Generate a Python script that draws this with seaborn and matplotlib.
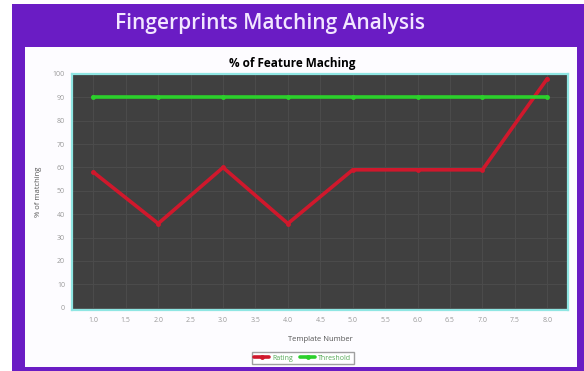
import matplotlib
matplotlib.use("Agg")
import matplotlib.pyplot as plt
import matplotlib.patches as mpatches
import seaborn as sns
import pandas as pd
import numpy as np

template_numbers = [1, 2, 3, 4, 5, 6, 7, 8]
rating = [58, 36, 60, 36, 59, 59, 59, 98]
threshold = [90, 90, 90, 90, 90, 90, 90, 90]
series_names = ["Rating", "Threshold"]
x_ticks = [1.0, 1.5, 2.0, 2.5, 3.0, 3.5, 4.0, 4.5, 5.0, 5.5, 6.0, 6.5, 7.0, 7.5, 8.0]
y_ticks = [0, 10, 20, 30, 40, 50, 60, 70, 80, 90, 100]

df = pd.DataFrame({
    "Template Number": template_numbers * 2,
    "value": rating + threshold,
    "series": [series_names[0]] * len(rating) + [series_names[1]] * len(threshold),
})

sns.set_style("white")
plt.rcParams["font.family"] = ["Open Sans", "DejaVu Sans"]

W, H = 584, 371
fig = plt.figure(figsize=(W / 100, H / 100), dpi=100)
fig.patch.set_facecolor("white")

purple = "#6A1CC4"
# purple frame
fig.patches.append(mpatches.Rectangle((12 / W, 0), 1 - 12 / W, 1 - 4 / H,
                                      transform=fig.transFigure, facecolor=purple,
                                      edgecolor="none", zorder=-2))
# white inner panel
fig.patches.append(mpatches.Rectangle((25 / W, 4 / H), (577 - 25) / W, (367 - 47) / H,
                                      transform=fig.transFigure, facecolor="#FDFCFF",
                                      edgecolor="none", zorder=-1))

fig.text(270 / W, 1 - 23 / H, "Fingerprints Matching Analysis", ha="center", va="center",
         color="#F2E6FF", fontsize=15, fontweight="semibold")
fig.text(0.5, 1 - 64 / H, "% of Feature Maching", ha="center", va="center",
         color="black", fontsize=8.5, fontweight="bold")

ax = fig.add_axes([72 / W, 1 - 310 / H, (568 - 72) / W, (310 - 74) / H])
ax.set_zorder(5)
ax.set_facecolor("#404040")

palette = {"Rating": "#D0182C", "Threshold": "#2BD02B"}
sns.lineplot(data=df, x="Template Number", y="value", hue="series", palette=palette,
             linewidth=2.6, marker="o", markersize=3.5, markeredgewidth=0, ax=ax,
             legend=True)

ax.set_xlim(0.67, 8.32)
ax.set_ylim(-1, 100)
ax.set_xticks(x_ticks)
ax.set_xticklabels([f"{t:.1f}" for t in x_ticks])
ax.set_yticks(y_ticks)
ax.set_yticklabels([str(t) for t in y_ticks])
ax.tick_params(axis="both", labelsize=5, colors="#9A9A9A", length=0, pad=5)
ax.grid(True, color="#4B4B4B", linewidth=0.8)
ax.set_axisbelow(True)
for s in ax.spines.values():
    s.set_color("#8FE6E3")
    s.set_linewidth(1.6)

ax.set_xlabel("Template Number", fontsize=5.5, color="#555555", labelpad=9)
ax.set_ylabel("% of matching", fontsize=5.5, color="#555555", labelpad=8)

leg = ax.legend(loc="upper center", bbox_to_anchor=(0.465, -0.165), ncol=2, fontsize=5,
                frameon=True, fancybox=False, edgecolor="#888888", handlelength=2.2,
                columnspacing=1.0, borderpad=0.35, handletextpad=0.4)
for t in leg.get_texts():
    t.set_color("#55AA55")

fig.savefig("out.png", dpi=100)
